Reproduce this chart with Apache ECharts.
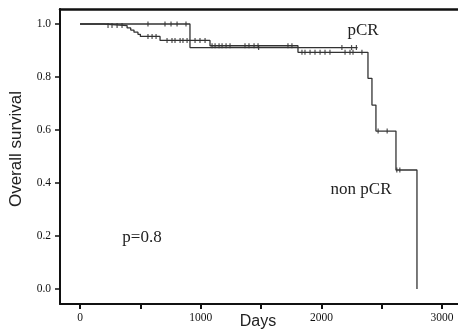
<!DOCTYPE html>
<html><head><meta charset="utf-8">
<script src="https://cdn.jsdelivr.net/npm/echarts@6/dist/echarts.min.js"></script>
<style>html,body{margin:0;padding:0;background:#fff}#c{width:458px;height:330px}</style>
</head><body><div id="c"></div>
<script>
// Kaplan-Meier step data (days, survival)
const pcrTimes = [0, 911, 2300];
const pcrSurv  = [1.0, 0.911, 0.911];
const pcrCensorTimes = [563, 704, 754, 804, 878, 1480, 2170, 2250, 2290];
const pcrCensorSurv  = [1.0, 1.0, 1.0, 1.0, 1.0, 0.911, 0.911, 0.911, 0.911];

const nonTimes = [0, 200, 390, 420, 447, 480, 500, 663, 1077, 1806, 2386, 2419, 2452, 2618, 2792];
const nonSurv  = [1.0, 0.994, 0.985, 0.977, 0.969, 0.961, 0.953, 0.938, 0.918, 0.893, 0.795, 0.694, 0.596, 0.449, 0.0];
const nonCensorTimes = [232, 265, 307, 348, 563, 597, 630, 721, 762, 787, 829, 853, 887, 953, 994, 1036,
  1094, 1119, 1152, 1177, 1210, 1243, 1367, 1400, 1442, 1475, 1723, 1756,
  1839, 1864, 1906, 1947, 1989, 2030, 2071, 2196, 2237, 2262, 2336, 2470, 2545, 2625, 2650];
const nonCensorSurv = [0.994, 0.994, 0.994, 0.994, 0.953, 0.953, 0.953, 0.938, 0.938, 0.938, 0.938, 0.938, 0.938, 0.938, 0.938, 0.938,
  0.918, 0.918, 0.918, 0.918, 0.918, 0.918, 0.918, 0.918, 0.918, 0.918, 0.918, 0.918,
  0.893, 0.893, 0.893, 0.893, 0.893, 0.893, 0.893, 0.893, 0.893, 0.893, 0.893, 0.596, 0.596, 0.449, 0.449];

const xTickValues = [0, 500, 1000, 1500, 2000, 2500, 3000];
const xLabelValues = [0, 1000, 2000, 3000];
const yTickValues = [0, 0.2, 0.4, 0.6, 0.8, 1.0];

const zip = (a, b) => a.map((v, i) => [v, b[i]]);
const chart = echarts.init(document.getElementById('c'), null, {renderer: 'canvas'});
const serif = '"Liberation Serif","DejaVu Serif",serif';
const sans = '"Liberation Sans",Arial,sans-serif';
const lineCol = '#333';
const censorSym = 'rect';

chart.setOption({
  animation: false,
  backgroundColor: '#fff',
  grid: {left: 60, right: 0, top: 9, bottom: 26, containLabel: false, outerBoundsMode: 'none'},
  xAxis: [{
    type: 'value', min: -166, max: 3132, position: 'bottom',
    axisLine: {show: true, onZero: false, lineStyle: {color: '#111', width: 2}},
    axisTick: {show: true, inside: false, length: 5, customValues: xTickValues, lineStyle: {color: '#111', width: 2}},
    axisLabel: {show: true, customValues: xLabelValues, margin: 8, fontFamily: serif, fontSize: 11.5, color: '#111',
      formatter: v => String(Math.round(v))},
    splitLine: {show: false}
  }, {
    type: 'value', min: -166, max: 3132, position: 'top',
    axisLine: {show: true, onZero: false, lineStyle: {color: '#111', width: 2.5}},
    axisTick: {show: false}, axisLabel: {show: false}, splitLine: {show: false}
  }],
  yAxis: {
    type: 'value', min: -0.0566, max: 1.0566,
    axisLine: {show: true, onZero: false, lineStyle: {color: '#111', width: 2}},
    axisTick: {show: true, inside: false, length: 5, customValues: yTickValues, lineStyle: {color: '#111', width: 1.5}},
    axisLabel: {show: true, customValues: yTickValues, margin: 9, fontFamily: serif, fontSize: 11.5, color: '#111',
      formatter: v => Number(v).toFixed(1)},
    splitLine: {show: false}
  },
  graphic: [
    {type: 'text', x: 16, y: 149, rotation: Math.PI / 2,
      style: {text: 'Overall survival', font: '17px ' + sans, fill: '#222', align: 'center', verticalAlign: 'middle'}},
    {type: 'text', x: 258, y: 322, style: {text: 'Days', font: '16px ' + sans, fill: '#222', align: 'center', verticalAlign: 'middle'}},
    {type: 'text', x: 363, y: 31, style: {text: 'pCR', font: '17px ' + serif, fill: '#222', align: 'center', verticalAlign: 'middle'}},
    {type: 'text', x: 361, y: 190, style: {text: 'non pCR', font: '17px ' + serif, fill: '#222', align: 'center', verticalAlign: 'middle'}},
    {type: 'text', x: 142, y: 238, style: {text: 'p=0.8', font: '17px ' + serif, fill: '#222', align: 'center', verticalAlign: 'middle'}}
  ],
  series: [
    {type: 'line', step: 'end', data: zip(pcrTimes, pcrSurv), showSymbol: false, symbol: 'none',
      lineStyle: {color: lineCol, width: 1.3}},
    {type: 'line', step: 'end', data: zip(nonTimes, nonSurv), showSymbol: false, symbol: 'none',
      lineStyle: {color: lineCol, width: 1.3}},
    {type: 'scatter', data: zip(pcrCensorTimes, pcrCensorSurv), symbol: censorSym, symbolSize: [1.2, 5],
      itemStyle: {color: '#222'}},
    {type: 'scatter', data: zip(nonCensorTimes, nonCensorSurv), symbol: censorSym, symbolSize: [1.2, 5],
      itemStyle: {color: '#222'}}
  ]
});
</script>
</body></html>
